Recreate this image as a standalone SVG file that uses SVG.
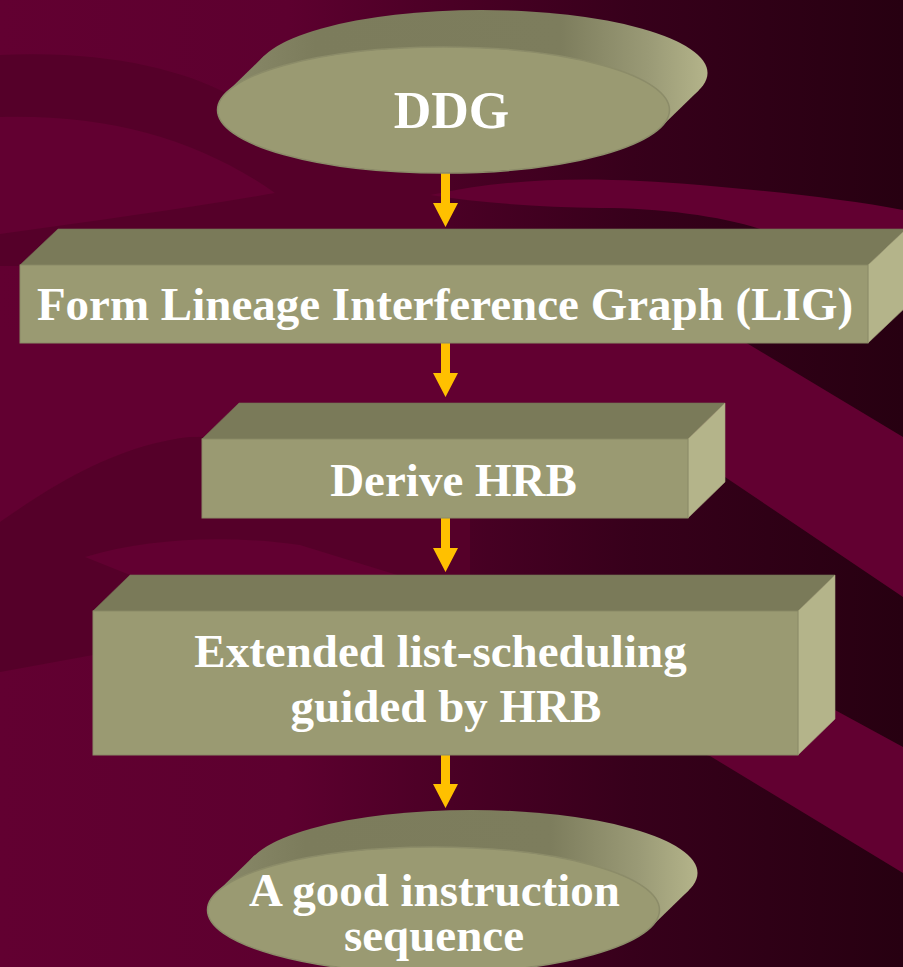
<svg xmlns="http://www.w3.org/2000/svg" width="903" height="967" viewBox="0 0 903 967">
  <defs>
    <linearGradient id="bgShade" gradientUnits="userSpaceOnUse" x1="0" y1="0" x2="903" y2="0">
      <stop offset="0" stop-color="#620031"/>
      <stop offset="0.32" stop-color="#5d002f"/>
      <stop offset="0.5" stop-color="#4a0025"/>
      <stop offset="0.7" stop-color="#37001b"/>
      <stop offset="1" stop-color="#270011"/>
    </linearGradient>
    <!-- rim of the flat discs, in each disc's local coordinates -->
    <linearGradient id="rimShade" gradientUnits="userSpaceOnUse" x1="-226" y1="0" x2="264" y2="0">
      <stop offset="0" stop-color="#8a8a6a"/>
      <stop offset="0.2" stop-color="#7c7c5c"/>
      <stop offset="0.7" stop-color="#7d7d5d"/>
      <stop offset="0.88" stop-color="#9a9a76"/>
      <stop offset="1" stop-color="#b4b48a"/>
    </linearGradient>
    <style>
      .band{fill:#620031}
      .fold{fill:#550029}
      .front{fill:#9a9a72;stroke:#8a8a66;stroke-width:1}
      .top{fill:#7a7a59;stroke:#727254;stroke-width:0.6}
      .side{fill:#b4b48a;stroke:#a6a67e;stroke-width:0.6}
      .rim{fill:url(#rimShade)}
      .disc{fill:#9a9a72;stroke:#8c8c69;stroke-width:1.5}
      .label{font-family:"Liberation Serif","Times New Roman",serif;font-weight:bold;font-size:47px;fill:#ffffff;text-anchor:middle}
      .big{font-size:52px}
      .arrow{fill:#ffc000}
    </style>
  </defs>

  <!-- backdrop: shaded field with ribbon sweeps -->
  <g id="backdrop">
    <rect x="0" y="0" width="903" height="967" fill="url(#bgShade)"/>
    <path class="fold" d="M0,55 C100,50 180,68 230,95 L445,175 L445,266 L0,266 Z"/>
    <path class="band" d="M0,117 C110,114 200,140 275,193 C190,208 100,220 0,234 Z"/>
    <path class="band" d="M430,195 C520,176 600,177 700,185 C780,192 850,200 903,210 L903,229 L760,229 C720,216 660,208 600,208 C540,207 480,203 430,195 Z"/>
    <path class="band" d="M0,330 L725,330 L903,437 L903,597 L725,477 C600,445 350,430 190,437 C120,445 60,480 0,522 Z"/>
    <path class="fold" d="M0,522 C60,480 120,445 190,437 L470,440 L470,640 L93,655 L0,672 Z"/>
    <path class="band" d="M85,557 C150,537 230,535 300,545 L835,710 L903,747 L903,873 L710,756 L130,575 Z"/>
  </g>

  <!-- connectors -->
  <g id="connectors">
    <path class="arrow" d="M441,173 H450 V203 H458 L445.5,227 L433,203 H441 Z"/>
    <path class="arrow" d="M441,343 H450 V373 H458 L445.5,397 L433,373 H441 Z"/>
    <path class="arrow" d="M441,518 H450 V548 H458 L445.5,572 L433,548 H441 Z"/>
    <path class="arrow" d="M441,755 H450 V784 H458 L445.5,808 L433,784 H441 Z"/>
  </g>

  <!-- start disc -->
  <g id="ddg" transform="translate(443.5,110)">
    <ellipse class="rim" cx="38" cy="-37" rx="226" ry="63"/>
    <polygon class="rim" points="-217.3,-17.3 -179.3,-54.3 255.3,-19.7 217.3,17.3"/>
    <ellipse class="disc" cx="0" cy="0" rx="226" ry="63"/>
    <text class="label big" x="8" y="18">DDG</text>
  </g>

  <!-- step 1 -->
  <g id="form-lig">
    <polygon class="top" points="20,265 58,229 906,229 868,265"/>
    <polygon class="side" points="868,265 906,229 906,307 868,343"/>
    <rect class="front" x="20" y="265" width="848" height="78"/>
    <text class="label" x="445" y="320">Form Lineage Interference Graph (LIG)</text>
  </g>

  <!-- step 2 -->
  <g id="derive-hrb">
    <polygon class="top" points="202,439 239,403 725,403 688,439"/>
    <polygon class="side" points="688,439 725,403 725,482 688,518"/>
    <rect class="front" x="202" y="439" width="486" height="79"/>
    <text class="label" x="453.5" y="496">Derive HRB</text>
  </g>

  <!-- step 3 -->
  <g id="list-scheduling">
    <polygon class="top" points="93,611 130,575 835,575 798,611"/>
    <polygon class="side" points="798,611 835,575 835,719 798,755"/>
    <rect class="front" x="93" y="611" width="705" height="144"/>
    <text class="label" x="440.5" y="667">Extended list-scheduling</text>
    <text class="label" x="446" y="722">guided by HRB</text>
  </g>

  <!-- end disc -->
  <g id="good-sequence" transform="translate(433.5,910)">
    <ellipse class="rim" cx="38" cy="-37" rx="226" ry="63"/>
    <polygon class="rim" points="-217.3,-17.3 -179.3,-54.3 255.3,-19.7 217.3,17.3"/>
    <ellipse class="disc" cx="0" cy="0" rx="226" ry="63"/>
    <text class="label" x="1" y="-4">A good instruction</text>
    <text class="label" x="0.5" y="41">sequence</text>
  </g>
</svg>
